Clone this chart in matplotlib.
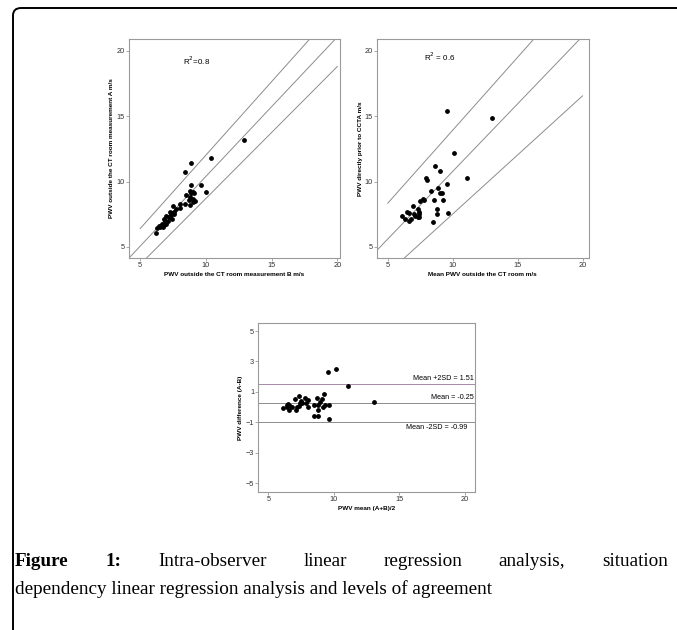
import numpy as np
import matplotlib.pyplot as plt
from matplotlib.patches import FancyBboxPatch

# panel 1: measurement B (x) vs measurement A (y)
meas_b = [12.9, 10.4, 8.9, 8.4, 9.6, 8.9, 10.0, 8.8, 9.0, 8.9, 9.1, 8.5, 8.8, 9.0,
          8.7, 9.0, 9.2, 8.8, 8.4, 8.0, 7.5, 8.05, 7.7, 7.3, 7.4, 7.5, 7.55, 7.2,
          7.0, 6.8, 6.9, 7.4, 7.1, 6.65, 6.8, 6.95, 6.5, 6.3, 6.2, 6.6, 7.6, 7.3,
          6.7, 6.4]
meas_a = [13.2, 11.8, 11.4, 10.7, 9.7, 9.7, 9.2, 9.3, 9.2, 9.1, 9.15, 9.0, 8.85, 8.7,
          8.55, 8.4, 8.5, 8.2, 8.3, 8.3, 8.1, 7.95, 7.9, 7.7, 7.55, 7.6, 7.5, 7.3,
          7.4, 7.15, 7.0, 7.1, 6.95, 6.75, 6.7, 6.75, 6.55, 6.45, 6.1, 6.6, 7.7, 7.4,
          6.5, 6.6]
fit1_mid = ([4.16, 19.85], [4.16, 20.9])
fit1_up = ([5.0, 17.9], [6.4, 20.9])
fit1_lo = ([5.5, 20.0], [4.16, 18.8])

# panel 2: mean PWV outside CT room (x) vs PWV prior to CCTA (y)
mean_out = [13.05, 9.55, 10.14, 11.1, 9.6, 8.64, 9.03, 7.95, 8.05, 8.9, 9.0, 9.15,
            8.33, 7.75, 7.8, 7.5, 8.6, 9.23, 8.77, 8.77, 9.65, 8.46, 7.35, 7.4, 7.38,
            7.3, 6.92, 6.46, 6.6, 6.08, 6.33, 6.67, 6.77, 7.1, 7.05, 7.4]
pwv_ccta = [14.87, 15.38, 12.2, 10.28, 9.8, 11.17, 10.79, 10.3, 10.1, 9.47, 9.1, 9.1,
            9.29, 8.65, 8.6, 8.5, 8.58, 8.58, 7.9, 7.49, 7.6, 6.88, 7.9, 7.7, 7.5,
            7.3, 8.12, 7.7, 7.6, 7.39, 7.1, 7.0, 7.1, 7.4, 7.5, 7.3]
fit2_mid = ([4.15, 19.74], [4.72, 20.84])
fit2_up = ([5.0, 16.2], [8.34, 20.84])
fit2_lo = ([6.28, 20.0], [4.15, 16.55])

# panel 3: Bland-Altman
ba_mean = [10.14, 9.55, 11.1, 13.06, 9.27, 7.34, 7.82, 8.69, 9.07, 7.03, 8.05, 7.4,
           7.5, 7.6, 7.87, 8.94, 8.5, 8.81, 9.65, 9.2, 9.3, 6.4, 6.5, 6.65, 6.78,
           6.14, 6.4, 7.16, 7.34, 8.0, 6.6, 7.1, 8.81, 8.5, 8.81, 9.6]
ba_diff = [2.5, 2.33, 1.41, 0.33, 0.83, 0.72, 0.63, 0.63, 0.52, 0.52, 0.46, 0.3,
           0.37, 0.26, 0.3, 0.35, 0.15, 0.11, 0.11, 0.04, 0.15, 0.15, 0.22, 0.09, 0.0,
           -0.07, 0.0, 0.04, 0.09, 0.0, -0.17, -0.17, -0.17, -0.57, -0.57, -0.76]
limits = [1.53, 0.26, -1.0]
limit_labels = ['Mean +2SD = 1.51', 'Mean = -0.25', 'Mean -2SD = -0.99']

W, H = 677, 630
fig = plt.figure(figsize=(W / 100, H / 100), dpi=100)

sans = ['Liberation Sans', 'DejaVu Sans']
grey = '#8c8c8c'
spine = '#9a9a9a'


def ax_at(l, t, r, b):
    return fig.add_axes([l / W, 1 - b / H, (r - l) / W, (b - t) / H])


def style(ax):
    for s in ax.spines.values():
        s.set_color(spine)
        s.set_linewidth(0.8)
    ax.tick_params(direction='out', length=2, width=0.6, color=spine,
                   labelsize=5.3, labelcolor='#333333', pad=1)
    for lab in ax.get_xticklabels() + ax.get_yticklabels():
        lab.set_family(sans)


# panel 1
ax1 = ax_at(129, 39, 340, 258)
ax1.scatter(meas_b, meas_a, s=6, color='black', zorder=3)
for xs, ys in (fit1_mid, fit1_up, fit1_lo):
    ax1.plot(xs, ys, color=grey, lw=0.7)
ax1.set_xlim(4.15, 20.2)
ax1.set_ylim(4.15, 20.9)
ax1.set_xticks([5, 10, 15, 20])
ax1.set_yticks([5, 10, 15, 20])
ax1.text(9.3, 19.2, 'R$^2$=0.8', fontsize=5.8, family=sans, ha='center', va='center')
ax1.set_xlabel('PWV outside the CT room measurement B m/s', fontsize=4.6,
               fontweight='bold', family=sans, labelpad=2)
ax1.set_ylabel('PWV outside the CT room measurement A m/s', fontsize=4.6,
               fontweight='bold', family=sans, labelpad=2)
style(ax1)

# panel 2
ax2 = ax_at(376.7, 39, 589, 258)
ax2.scatter(mean_out, pwv_ccta, s=6, color='black', zorder=3)
for xs, ys in (fit2_mid, fit2_up, fit2_lo):
    ax2.plot(xs, ys, color=grey, lw=0.7)
ax2.set_xlim(4.15, 20.5)
ax2.set_ylim(4.15, 20.9)
ax2.set_xticks([5, 10, 15, 20])
ax2.set_yticks([5, 10, 15, 20])
ax2.text(9.0, 19.55, 'R$^2$ = 0.6', fontsize=5.8, family=sans, ha='center', va='center')
ax2.set_xlabel('Mean PWV outside the CT room m/s', fontsize=4.6,
               fontweight='bold', family=sans, labelpad=2)
ax2.set_ylabel('PWV directly prior to CCTA m/s', fontsize=4.6,
               fontweight='bold', family=sans, labelpad=1)
style(ax2)

# panel 3
ax3 = ax_at(258.3, 322.7, 475.3, 492.3)
ax3.scatter(ba_mean, ba_diff, s=6, color='black', zorder=3)
line_cols = ['#a58aa8', grey, grey]
for val, c in zip(limits, line_cols):
    ax3.axhline(val, color=c, lw=0.7)
ax3.text(20.7, limits[0] + 0.12, limit_labels[0], fontsize=5.2, family=sans,
         ha='right', va='bottom')
ax3.text(20.7, limits[1] + 0.12, limit_labels[1], fontsize=5.2, family=sans,
         ha='right', va='bottom')
ax3.text(20.2, limits[2] - 0.12, limit_labels[2], fontsize=5.2, family=sans,
         ha='right', va='top')
ax3.set_xlim(4.24, 20.8)
ax3.set_ylim(-5.6, 5.55)
ax3.set_xticks([5, 10, 15, 20])
ax3.set_yticks([5, 3, 1, -1, -3, -5])
ax3.set_xlabel('PWV mean (A+B)/2', fontsize=4.6, fontweight='bold', family=sans,
               labelpad=2)
ax3.set_ylabel('PWV difference (A-B)', fontsize=4.6, fontweight='bold', family=sans,
               labelpad=2)
style(ax3)

# frame with rounded top-left corner
frame = FancyBboxPatch((13 / W, -0.2), 1.5, 1 - 8 / H + 0.2,
                       boxstyle='round,pad=0,rounding_size=0.012',
                       transform=fig.transFigure, fill=False, ec='black', lw=1.4,
                       clip_on=False)
fig.patches.append(frame)

# caption
serif = ['Liberation Serif', 'DejaVu Serif']
line2 = 'dependency linear regression analysis and levels of agreement'
fs = 12.5
renderer = fig.canvas.get_renderer()
probe = fig.text(0, 0, line2, fontsize=fs, family=serif)
wpx = probe.get_window_extent(renderer).width
probe.remove()
fs = fs * 480 / wpx

left_px, right_px = 15, 668
y1 = 1 - 566 / H
y2 = 1 - 594 / H
words = [('Figure', 'bold'), ('1:', 'bold'), ('Intra-observer', 'normal'),
         ('linear', 'normal'), ('regression', 'normal'), ('analysis,', 'normal'),
         ('situation', 'normal')]
arts = [fig.text(0, y1, w, fontsize=fs, family=serif, fontweight=wt, va='baseline')
        for w, wt in words]
widths = [a.get_window_extent(renderer).width for a in arts]
gap = (right_px - left_px - sum(widths)) / (len(words) - 1)
x = left_px
for a, w in zip(arts, widths):
    a.set_x(x / W)
    x += w + gap
fig.text(left_px / W, y2, line2, fontsize=fs, family=serif, va='baseline')

fig.savefig('out.png', dpi=100)
